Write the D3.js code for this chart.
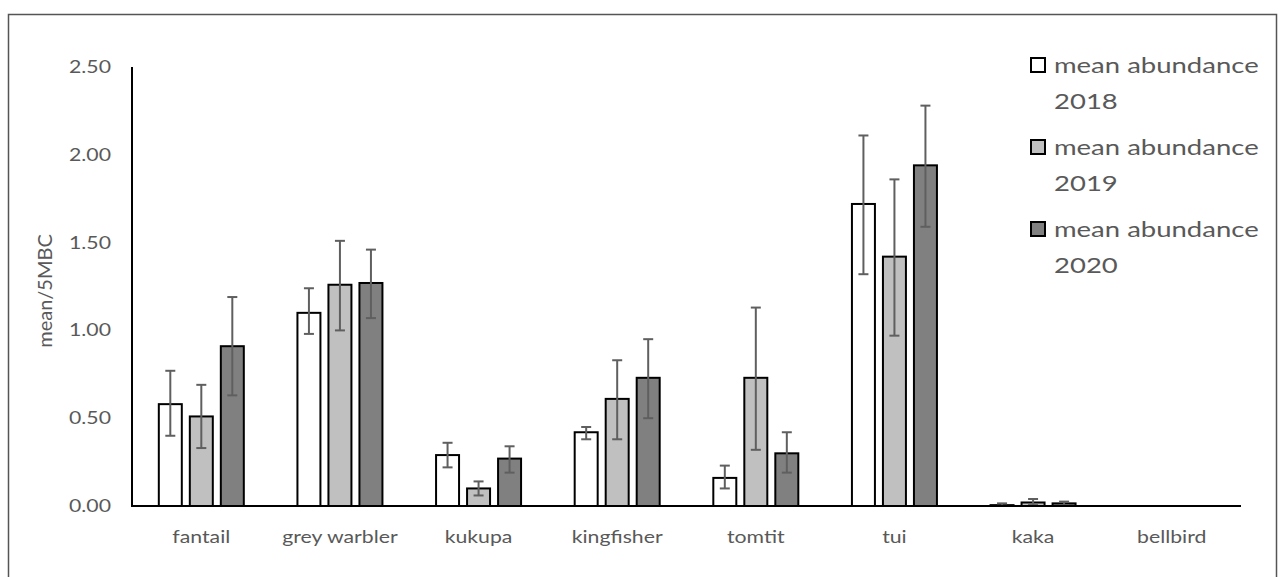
<!DOCTYPE html>
<html>
<head>
<meta charset="utf-8">
<script src="https://cdn.jsdelivr.net/npm/d3@7"></script>
<style>
  html, body { margin: 0; padding: 0; background: #fff; }
  svg { display: block; }
  text { font-family: Lato, "Open Sans", sans-serif; fill: #595959; }
</style>
</head>
<body>
<svg id="chart" width="1279" height="577"></svg>
<script>
const categories = ["fantail", "grey warbler", "kukupa", "kingfisher", "tomtit", "tui", "kaka", "bellbird"];
const seriesNames = ["mean abundance 2018", "mean abundance 2019", "mean abundance 2020"];
const seriesLine1 = ["mean abundance", "mean abundance", "mean abundance"];
const seriesLine2 = ["2018", "2019", "2020"];
const values2018 = [0.58, 1.10, 0.29, 0.42, 0.16, 1.72, 0.005, 0];
const values2019 = [0.51, 1.26, 0.10, 0.61, 0.73, 1.42, 0.02, 0];
const values2020 = [0.91, 1.27, 0.27, 0.73, 0.30, 1.94, 0.015, 0];
const errHigh2018 = [0.77, 1.24, 0.36, 0.45, 0.23, 2.11, 0.015, 0];
const errLow2018  = [0.40, 0.98, 0.22, 0.38, 0.10, 1.32, 0.000, 0];
const errHigh2019 = [0.69, 1.51, 0.14, 0.83, 1.13, 1.86, 0.040, 0];
const errLow2019  = [0.33, 1.00, 0.06, 0.38, 0.32, 0.97, 0.005, 0];
const errHigh2020 = [1.19, 1.46, 0.34, 0.95, 0.42, 2.28, 0.025, 0];
const errLow2020  = [0.63, 1.07, 0.19, 0.50, 0.19, 1.59, 0.005, 0];
const yTicks = [0, 0.5, 1.0, 1.5, 2.0, 2.5];
const fills = ["#ffffff", "#c0c0c0", "#808080"];

const values = [values2018, values2019, values2020];
const errHigh = [errHigh2018, errHigh2019, errHigh2020];
const errLow = [errLow2018, errLow2019, errLow2020];

const svg = d3.select("#chart");
const SX = 1.25; // horizontal text stretch

// outer frame
svg.append("rect").attr("x", 8.5).attr("y", 14.5).attr("width", 1268).attr("height", 600)
  .attr("fill", "none").attr("stroke", "#555").attr("stroke-width", 1.5);

const x0 = d3.scaleBand().domain(categories).range([132, 1241]).paddingInner(0).paddingOuter(0);
const x1 = d3.scaleBand().domain(seriesNames).range([-43.5, 43.5]).paddingInner(0.194).paddingOuter(0);
const y = d3.scaleLinear().domain([0, 2.5]).range([506, 67]);

// y tick labels
const yg = svg.append("g");
yg.selectAll("text").data(yTicks).join("text")
  .attr("transform", d => `translate(111,${y(d) + 6}) scale(${SX},1)`)
  .attr("text-anchor", "end")
  .style("font-size", "17px")
  .text(d => d3.format(".2f")(d));

// y title
svg.append("text")
  .attr("transform", "translate(52,291) rotate(-90)")
  .attr("text-anchor", "middle")
  .style("font-size", "20px")
  .text("mean/5MBC");

// bars
const groups = svg.append("g").selectAll("g").data(categories).join("g")
  .attr("transform", d => `translate(${x0(d) + x0.bandwidth() / 2},0)`);

seriesNames.forEach((s, si) => {
  groups.append("rect")
    .attr("x", x1(s) + 1)
    .attr("width", x1.bandwidth() - 2)
    .attr("y", (d, i) => y(values[si][i]))
    .attr("height", (d, i) => y(0) - y(values[si][i]))
    .attr("fill", fills[si])
    .attr("stroke", "#000")
    .attr("stroke-width", 2)
    .style("display", (d, i) => values[si][i] > 0 ? null : "none");
});

// error bars
seriesNames.forEach((s, si) => {
  const cx = x1(s) + x1.bandwidth() / 2;
  const eb = groups.append("g")
    .style("display", (d, i) => errHigh[si][i] > 0 ? null : "none");
  eb.append("line").attr("x1", cx).attr("x2", cx)
    .attr("y1", (d, i) => y(errHigh[si][i])).attr("y2", (d, i) => y(errLow[si][i]))
    .attr("stroke", "#5f5f5f").attr("stroke-width", 2);
  eb.append("line").attr("x1", cx - 5).attr("x2", cx + 5)
    .attr("y1", (d, i) => y(errHigh[si][i])).attr("y2", (d, i) => y(errHigh[si][i]))
    .attr("stroke", "#5f5f5f").attr("stroke-width", 2);
  eb.append("line").attr("x1", cx - 5).attr("x2", cx + 5)
    .attr("y1", (d, i) => y(errLow[si][i])).attr("y2", (d, i) => y(errLow[si][i]))
    .attr("stroke", "#5f5f5f").attr("stroke-width", 2);
});

// axes lines
svg.append("line").attr("x1", 132).attr("x2", 132).attr("y1", y(2.5)).attr("y2", y(0) + 1)
  .attr("stroke", "#000").attr("stroke-width", 2);
svg.append("line").attr("x1", 131).attr("x2", 1241).attr("y1", y(0)).attr("y2", y(0))
  .attr("stroke", "#000").attr("stroke-width", 2);

// category labels
svg.append("g").selectAll("text").data(categories).join("text")
  .attr("transform", d => `translate(${x0(d) + x0.bandwidth() / 2},543) scale(${SX},1)`)
  .attr("text-anchor", "middle")
  .style("font-size", "17px")
  .text(d => d);

// legend
const leg = svg.append("g").selectAll("g").data(seriesNames).join("g")
  .attr("transform", (d, i) => `translate(1031,${65 + i * 82})`);
leg.append("rect").attr("x", 0).attr("y", -7).attr("width", 14).attr("height", 14)
  .attr("fill", (d, i) => fills[i]).attr("stroke", "#000").attr("stroke-width", 2);
leg.append("text")
  .attr("transform", `translate(23,8) scale(${SX},1)`)
  .style("font-size", "22px")
  .text((d, i) => seriesLine1[i]);
leg.append("text")
  .attr("transform", `translate(23,44) scale(${SX},1)`)
  .style("font-size", "22px")
  .text((d, i) => seriesLine2[i]);
</script>
</body>
</html>
